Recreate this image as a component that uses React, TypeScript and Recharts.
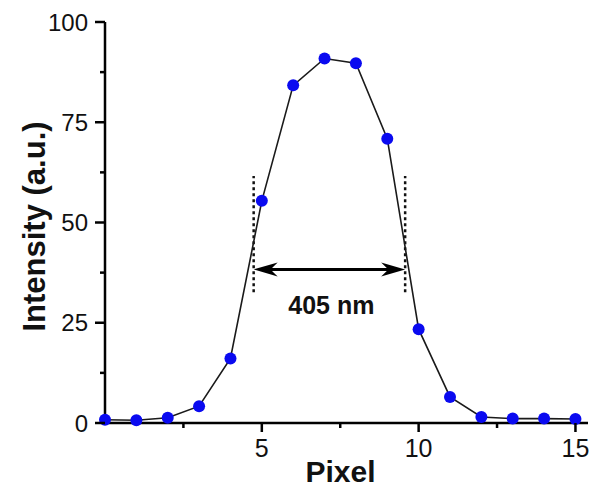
import React from "react";
import { LineChart, Line, XAxis, YAxis, ReferenceLine } from "recharts";

// Intensity profile across pixels
const pixels = [0, 1, 2, 3, 4, 5, 6, 7, 8, 9, 10, 11, 12, 13, 14, 15];
const intensity = [0.8, 0.7, 1.3, 4.2, 16.1, 55.4, 84.2, 90.9, 89.7, 70.9, 23.4, 6.5, 1.5, 1.1, 1.1, 1.0];

const xTicks = [2.5, 5, 7.5, 10, 12.5, 15];
const xMajor = [5, 10, 15];
const yTicks = [0, 12.5, 25, 37.5, 50, 62.5, 75, 87.5, 100];
const yMajor = [0, 25, 50, 75, 100];

// FWHM annotation
const fwhmLeft = 4.74;
const fwhmRight = 9.57;
const fwhmY = 38.3;
const guideLow = 32.6;
const guideHigh = 61.6;
const fwhmLabel = "405 nm";

const data = pixels.map((p, i) => ({ x: p, y: intensity[i] }));

const FONT = '"Liberation Sans", Arial, Helvetica, sans-serif';

function XTick({ x, y, payload }: any) {
  const major = xMajor.includes(payload.value);
  return (
    <g>
      <line x1={x} y1={y} x2={x} y2={y + (major ? 9 : 5)} stroke="#000" strokeWidth={2.5} />
      {major && (
        <text x={x} y={y + 34} textAnchor="middle" fontSize={25} fill="#111" fontFamily={FONT}>
          {payload.value}
        </text>
      )}
    </g>
  );
}

function YTick({ x, y, payload }: any) {
  const major = yMajor.includes(payload.value);
  return (
    <g>
      <line x1={x - (major ? 10 : 5)} y1={y} x2={x} y2={y} stroke="#000" strokeWidth={2.5} />
      {major && (
        <text x={x - 17} y={y + 8.5} textAnchor="end" fontSize={24} fill="#111" fontFamily={FONT}>
          {payload.value}
        </text>
      )}
    </g>
  );
}

function FwhmArrow(props: any) {
  const { x1, y1, x2 } = props;
  const len = 24;
  const hw = 7;
  const mid = (x1 + x2) / 2;
  return (
    <g>
      <line x1={x1 + 10} y1={y1} x2={x2 - 10} y2={y1} stroke="#000" strokeWidth={3} />
      <path
        d={`M${x1},${y1} L${x1 + len},${y1 - hw} L${x1 + len * 0.7},${y1} L${x1 + len},${y1 + hw} Z`}
        fill="#000"
      />
      <path
        d={`M${x2},${y1} L${x2 - len},${y1 - hw} L${x2 - len * 0.7},${y1} L${x2 - len},${y1 + hw} Z`}
        fill="#000"
      />
      <text x={mid + 2} y={y1 + 45} textAnchor="middle" fontSize={25} fontWeight="bold" fill="#111" fontFamily={FONT}>
        {fwhmLabel}
      </text>
    </g>
  );
}

export default function App() {
  return (
    <div style={{ position: "absolute", left: 0, top: 0, background: "#fff" }}>
      <LineChart width={595} height={489} data={data} margin={{ top: 22, right: 7, left: 0, bottom: 0 }}>
        <XAxis
          dataKey="x"
          type="number"
          domain={[0, 15.4]}
          ticks={xTicks}
          interval={0}
          tickLine={false}
          tickSize={0}
          tickMargin={0}
          tick={<XTick />}
          axisLine={{ stroke: "#000", strokeWidth: 2.5 }}
          height={66}
          label={{
            content: ({ viewBox }: any) => (
              <text
                x={viewBox.x + viewBox.width / 2 - 6}
                y={viewBox.y + 59}
                textAnchor="middle"
                fontSize={30}
                fontWeight="bold"
                fill="#111"
                fontFamily={FONT}
              >
                Pixel
              </text>
            ),
          }}
        />
        <YAxis
          type="number"
          domain={[0, 100]}
          ticks={yTicks}
          interval={0}
          tickLine={false}
          tickSize={0}
          tickMargin={0}
          tick={<YTick />}
          axisLine={{ stroke: "#000", strokeWidth: 2.5 }}
          width={105}
          label={{
            content: ({ viewBox }: any) => {
              const cx = 45;
              const cy = viewBox.y + viewBox.height / 2 + 4;
              return (
                <text
                  x={cx}
                  y={cy}
                  transform={`rotate(-90, ${cx}, ${cy})`}
                  textAnchor="middle"
                  fontSize={31}
                  fontWeight="bold"
                  fill="#111"
                  fontFamily={FONT}
                >
                  Intensity (a.u.)
                </text>
              );
            },
          }}
        />
        <ReferenceLine
          segment={[{ x: fwhmLeft, y: guideLow }, { x: fwhmLeft, y: guideHigh }]}
          stroke="#111"
          strokeWidth={2.5}
          strokeDasharray="3 3"
        />
        <ReferenceLine
          segment={[{ x: fwhmRight, y: guideLow }, { x: fwhmRight, y: guideHigh }]}
          stroke="#111"
          strokeWidth={2.5}
          strokeDasharray="3 3"
        />
        <ReferenceLine
          segment={[{ x: fwhmLeft, y: fwhmY }, { x: fwhmRight, y: fwhmY }]}
          shape={<FwhmArrow />}
        />
        <Line
          type="linear"
          dataKey="y"
          stroke="#1a1a1a"
          strokeWidth={1.6}
          dot={{ r: 6, fill: "#0a0af0", stroke: "none" }}
          activeDot={false}
          isAnimationActive={false}
        />
      </LineChart>
    </div>
  );
}
